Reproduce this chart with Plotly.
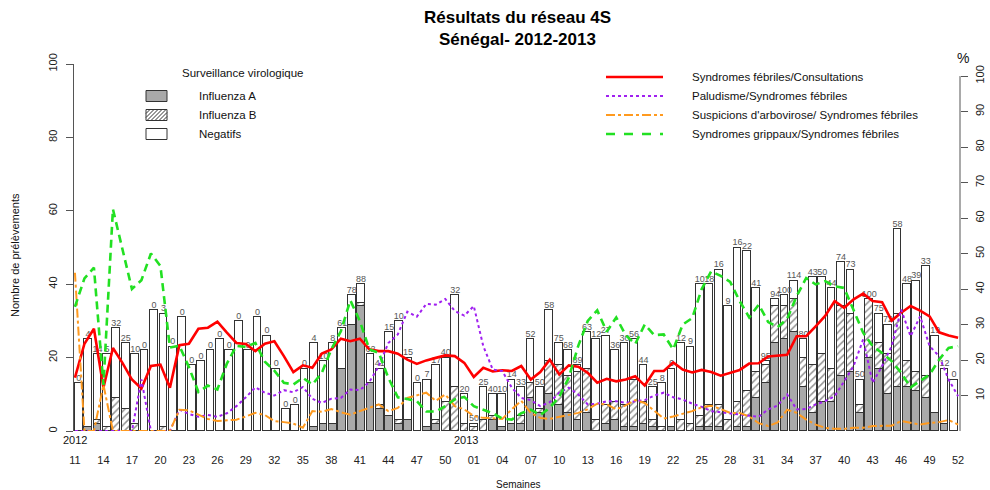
import plotly.graph_objects as go

# ---------------- data ----------------
weeks_2012 = list(range(11, 53))
weeks_2013 = list(range(1, 53))
week_labels = [f"{w:02d}" for w in weeks_2012 + weeks_2013]

influenza_a = [0, 1, 2, 0, 0, 0, 0, 0, 0, 0, 0, 0, 0, 0, 0, 0, 0, 0, 0, 0,
               0, 0, 0, 0, 0, 1, 2, 2, 17, 29, 34, 13, 6, 4, 2, 3, 0, 1, 2, 0,
               0, 0, 0, 0, 3, 1, 2, 2, 9, 5, 10, 7, 5, 3, 5, 0, 2, 3, 1, 1,
               2, 1, 0, 1, 0, 0, 1, 1, 1, 0, 1, 1, 9, 13, 24, 25, 27, 12, 5, 8,
               8, 15, 16, 5, 20, 17, 10, 12, 12, 11, 9, 5, 2, 0]
influenza_b = [0, 0, 1, 1, 9, 6, 2, 0, 0, 1, 0, 0, 0, 0, 0, 0, 0, 0, 0, 0,
               0, 0, 0, 0, 0, 0, 0, 0, 0, 0, 1, 0, 1, 0, 1, 0, 0, 0, 1, 8,
               12, 2, 1, 3, 1, 0, 0, 2, 4, 1, 9, 11, 10, 13, 12, 3, 5, 5, 6, 13,
               6, 2, 1, 0, 3, 2, 3, 6, 6, 3, 7, 10, 7, 5, 10, 9, 9, 8, 13, 13,
               9, 19, 16, 2, 16, 7, 11, 20, 7, 5, 6, 0, 0, 0]
negatifs = [13, 24, 18, 20, 19, 18, 19, 22, 33, 31, 23, 31, 18, 19, 22, 25, 22, 30, 22, 31,
            26, 17, 6, 7, 17, 23, 17, 22, 11, 8, 5, 8, 10, 23, 27, 17, 13, 13, 15, 12,
            25, 8, 1, 9, 6, 9, 12, 8, 12, 6, 14, 6, 7, 2, 10, 22, 19, 14, 17, 11,
            10, 9, 12, 16, 21, 21, 36, 33, 37, 31, 42, 38, 23, 1, 2, 3, 5, 5, 24, 21,
            22, 12, 12, 7, 0, 8, 8, 23, 21, 25, 30, 21, 15, 14]
pct_positifs = ["0", "4", "14", "5", "32", "25", "10", "0", "0", "3", "0", "0", "0", "0", "0", "0", "0", "0", "0", "0",
                "0", "0", "0", "0", "0", "4", "10", "8", "61", "78", "88", "62", "41", "15", "10", "15", "0", "7", "17", "40",
                "32", "20", "50", "25", "40", "10", "14", "33", "52", "50", "58", "75", "68", "89", "63", "12", "27", "36", "30", "56",
                "44", "25", "8", "6", "12", "9", "10", "18", "16", "9", "16", "22", "41", "95", "94", "100", "114", "80", "43", "50",
                "44", "74", "73", "50", "100", "75", "72", "58", "48", "39", "33", "19", "12", "0"]

fievre_consult = [15.0, 24.6, 28.8, 12.2, 23.4, 19.2, 14.5, 12.0, 18.3, 18.7, 12.2, 24.2, 24.6, 28.8, 29.1, 30.8, 27.7, 24.8, 24.5, 22.5,
                  24.6, 25.3, 21.1, 16.6, 18.5, 17.8, 21.8, 23.0, 26.0, 25.3, 26.0, 23.0, 22.5, 22.5, 21.8, 20.1, 18.9, 19.9, 20.6, 21.3,
                  21.1, 19.2, 15.2, 17.8, 16.8, 17.1, 16.9, 18.3, 14.5, 16.6, 20.1, 15.9, 18.5, 18.1, 16.4, 13.6, 14.7, 14.0, 14.5, 15.4,
                  12.8, 16.9, 16.9, 19.3, 17.3, 16.5, 17.2, 16.6, 15.6, 16.4, 17.2, 19.0, 19.1, 21.0, 21.2, 21.5, 26.7, 26.7, 29.5, 32.4,
                  36.6, 34.7, 37.1, 38.7, 36.6, 36.3, 31.1, 33.3, 35.2, 33.9, 32.3, 27.8, 26.9, 26.3]
paludisme = [0, 0, 0, 0, 0, 0, 0, 14.5, 0, 0, 0, 6.0, 4.8, 4.0, 4.5, 4.0, 5.0, 7.0, 9.5, 12.3,
             10.8, 10.0, 11.5, 10.9, 12.4, 9.1, 7.9, 9.1, 9.3, 11.7, 11.5, 13.8, 18.3, 24.8, 27.2, 33.6, 32.2, 35.8, 35.6, 37.2,
             33.8, 32.5, 35.2, 23.9, 17.3, 16.9, 12.2, 9.3, 8.7, 7.0, 8.1, 10.8, 12.2, 10.3, 7.5, 7.7, 8.4, 8.4, 7.9, 8.4,
             8.7, 10.0, 10.8, 9.5, 8.9, 7.7, 6.8, 5.6, 5.3, 5.1, 4.6, 4.4, 4.0, 6.1, 7.2, 10.3, 6.1, 6.2, 7.5, 8.4,
             9.8, 14.0, 18.3, 25.8, 13.6, 18.3, 23.9, 34.2, 26.7, 32.3, 23.9, 21.1, 14.5, 9.8]
arbovirose = [44.6, 0, 0, 13.0, 0, 0, 0, 0, 0, 0, 0, 6.0, 5.8, 4.6, 3.4, 2.8, 3.0, 3.2, 4.1, 5.1,
              4.5, 2.8, 2.5, 2.1, 0.9, 5.6, 5.4, 6.2, 5.3, 4.6, 5.6, 6.5, 7.5, 5.6, 6.5, 9.3, 10.0, 10.8, 8.5, 10.3,
              7.0, 6.1, 4.2, 3.7, 3.6, 3.4, 6.1, 8.5, 5.1, 3.7, 3.4, 4.0, 4.6, 5.1, 6.1, 7.7, 7.5, 6.1, 7.2, 8.7,
              7.9, 5.6, 3.5, 4.1, 4.8, 5.6, 6.7, 7.1, 6.2, 5.1, 5.1, 4.1, 2.2, 1.4, 2.4, 6.0, 5.1, 3.2, 1.8, 0.9,
              0.6, 0.6, 0.9, 0.9, 1.4, 1.5, 1.5, 2.8, 2.3, 1.8, 2.3, 2.5, 3.1, 1.8]
grippaux = [35.0, 43.0, 46.0, 13.0, 62.5, 51.0, 40.0, 42.5, 50.0, 46.5, 23.5, 24.0, 18.0, 11.0, 12.8, 11.7, 19.0, 24.0, 23.7, 24.8,
            19.5, 17.0, 13.6, 13.1, 15.0, 13.1, 16.4, 23.0, 28.1, 36.8, 31.0, 23.0, 22.0, 15.0, 9.5, 9.0, 8.4, 5.5, 5.5, 7.0,
            8.9, 9.6, 7.0, 6.0, 5.0, 3.5, 3.2, 5.0, 6.0, 4.5, 6.5, 9.6, 15.0, 24.0, 31.0, 34.0, 28.0, 32.0, 27.0, 24.5,
            30.0, 27.0, 27.2, 23.0, 30.0, 31.8, 40.0, 45.0, 43.7, 42.0, 36.6, 32.0, 35.6, 30.7, 29.3, 31.6, 38.0, 43.1, 41.3, 42.2,
            40.8, 40.3, 34.2, 27.7, 23.9, 22.0, 19.7, 16.4, 12.3, 14.0, 15.9, 20.1, 23.4, 23.9]

idx = list(range(len(week_labels)))
totals = [a + b + n for a, b, n in zip(influenza_a, influenza_b, negatifs)]

# ---------------- geometry (pixels) ----------------
FW, FH = 990, 490
L, R, T, B = 74, 960, 64, 431
W, H = R - L, B - T
FONT = "Liberation Sans, Arial, Helvetica, sans-serif"


def fx(px):
    return (px - L) / W


def fy(py):
    return (B - py) / H


OUT = "#333333"
fig = go.Figure()

fig.add_trace(go.Bar(x=idx, y=influenza_a, width=0.82, name="Influenza A",
                     marker=dict(color="#A9A9A9", line=dict(color=OUT, width=1))))
fig.add_trace(go.Bar(x=idx, y=influenza_b, width=0.82, name="Influenza B",
                     marker=dict(color="white", line=dict(color=OUT, width=1),
                                 pattern=dict(shape="/", fgcolor="#222222", bgcolor="white",
                                              size=5, solidity=0.3))))
fig.add_trace(go.Bar(x=idx, y=negatifs, width=0.82, name="Negatifs",
                     marker=dict(color="white", line=dict(color=OUT, width=1))))
fig.add_trace(go.Scatter(x=idx, y=totals, mode="text", text=pct_positifs,
                         textposition="top center", cliponaxis=False,
                         textfont=dict(family=FONT, size=9, color="#555555"), hoverinfo="skip"))

line_specs = [
    (fievre_consult, "#FF0000", "solid", 2.6),
    (paludisme, "#A020F0", "dot", 2),
    (arbovirose, "#FF9A1F", "dashdot", 2),
    (grippaux, "#22E022", "8px,5px", 2.6),
]
for vals, col, dash, wd in line_specs:
    fig.add_trace(go.Scatter(x=idx, y=vals, mode="lines", xaxis="x2", yaxis="y2",
                             line=dict(color=col, dash=dash, width=wd), hoverinfo="skip"))

shapes = []
annotations = []

# right axis line (0..100)
shapes.append(dict(type="line", xref="paper", yref="y2", x0=1, x1=1, y0=0, y1=100,
                   line=dict(color="#555555", width=1)))

# ---- left legend (virology) ----
annotations.append(dict(x=fx(180), y=fy(73), xref="paper", yref="paper", text="Surveillance virologique",
                        showarrow=False, xanchor="left", yanchor="middle",
                        font=dict(family=FONT, size=11.5, color="#111")))
box_x0, box_x1 = 146, 167
rows = [(96, "Influenza A", "#A9A9A9"), (115, "Influenza B", "white"), (134, "Negatifs", "white")]
for yc, lab, col in rows:
    y0, y1 = yc - 5.5, yc + 5.5
    shapes.append(dict(type="rect", xref="paper", yref="paper", x0=fx(box_x0), x1=fx(box_x1),
                       y0=fy(y1), y1=fy(y0), fillcolor=col, line=dict(color=OUT, width=1)))
    annotations.append(dict(x=fx(197), y=fy(yc), xref="paper", yref="paper", text=lab,
                            showarrow=False, xanchor="left", yanchor="middle",
                            font=dict(family=FONT, size=11.5, color="#111")))
    if lab == "Influenza B":
        h = y1 - y0
        c = box_x0 - h
        while c < box_x1:
            xs, ys = c, y1
            xe, ye = c + h, y0
            if xs < box_x0:
                ys = y1 - (box_x0 - c)
                xs = box_x0
            if xe > box_x1:
                ye = y1 - (box_x1 - c)
                xe = box_x1
            shapes.append(dict(type="line", xref="paper", yref="paper", x0=fx(xs), y0=fy(ys),
                               x1=fx(xe), y1=fy(ye), line=dict(color="#333", width=1)))
            c += 4

# ---- right legend (lines) ----
leg_lines = [
    (77, "Syndromes fébriles/Consultations", "#FF0000", "solid", 2.6),
    (96, "Paludisme/Syndromes fébriles", "#A020F0", "dot", 2),
    (115, "Suspicions d'arbovirose/ Syndromes fébriles", "#FF9A1F", "dashdot", 2),
    (134, "Syndromes grippaux/Syndromes fébriles", "#22E022", "dash", 2.6),
]
for yc, lab, col, dash, wd in leg_lines:
    shapes.append(dict(type="line", xref="paper", yref="paper", x0=fx(606), x1=fx(663),
                       y0=fy(yc), y1=fy(yc), line=dict(color=col, dash=dash, width=wd)))
    annotations.append(dict(x=fx(690), y=fy(yc), xref="paper", yref="paper", text=lab,
                            showarrow=False, xanchor="left", yanchor="middle",
                            font=dict(family=FONT, size=11.5, color="#111")))

# ---- titles and texts ----
annotations += [
    dict(x=fx(517), y=fy(18), xref="paper", yref="paper", text="<b>Résultats du réseau 4S</b>",
         showarrow=False, xanchor="center", yanchor="middle", font=dict(family=FONT, size=17, color="black")),
    dict(x=fx(517), y=fy(39), xref="paper", yref="paper", text="<b>Sénégal- 2012-2013</b>",
         showarrow=False, xanchor="center", yanchor="middle", font=dict(family=FONT, size=17, color="black")),
    dict(x=fx(15), y=fy(255), xref="paper", yref="paper", text="Nombre de prélèvements", textangle=-90,
         showarrow=False, xanchor="center", yanchor="middle", font=dict(family=FONT, size=11, color="#111")),
    dict(x=fx(963), y=fy(58), xref="paper", yref="paper", text="%",
         showarrow=False, xanchor="center", yanchor="middle", font=dict(family=FONT, size=14, color="#111")),
    dict(x=fx(518), y=fy(484), xref="paper", yref="paper", text="Semaines",
         showarrow=False, xanchor="center", yanchor="middle", font=dict(family=FONT, size=10, color="#111")),
    dict(x=0, y=fy(440), xref="x2", yref="paper", text="2012",
         showarrow=False, xanchor="center", yanchor="middle", font=dict(family=FONT, size=11, color="#111")),
    dict(x=len(weeks_2012) - 0.8, y=fy(440), xref="x2", yref="paper", text="2013",
         showarrow=False, xanchor="center", yanchor="middle", font=dict(family=FONT, size=11, color="#111")),
]

fig.update_layout(
    width=FW, height=FH,
    margin=dict(l=L, r=FW - R, t=T, b=FH - B, pad=0, autoexpand=False),
    paper_bgcolor="white", plot_bgcolor="white",
    barmode="stack", bargap=0, showlegend=False,
    font=dict(family=FONT, size=11, color="#222"),
    xaxis=dict(range=[-0.5, 93.64], visible=False, fixedrange=True, automargin=False),
    xaxis2=dict(overlaying="x", anchor="y", range=[-0.1, 93.2], side="bottom",
                tickmode="array", tickvals=idx[::3], ticktext=week_labels[::3],
                ticks="outside", ticklen=19, tickcolor="rgba(0,0,0,0)",
                showline=False, showgrid=False, zeroline=False, automargin=False,
                tickfont=dict(family=FONT, size=11, color="#222")),
    yaxis=dict(range=[0, 100], tickmode="array", tickvals=[0, 20, 40, 60, 80, 100],
               ticks="outside", ticklen=7, tickcolor="#555", showline=True, linecolor="#555",
               linewidth=1, tickangle=-90, showgrid=False, zeroline=False, automargin=False,
               ticklabelstandoff=5, tickfont=dict(family=FONT, size=11, color="#222")),
    yaxis2=dict(overlaying="y", side="right", anchor="x", range=[0, 103.4], tickmode="array",
                tickvals=[10, 20, 30, 40, 50, 60, 70, 80, 90, 100], ticks="outside", ticklen=7,
                tickcolor="#555", showline=False, tickangle=-90, showgrid=False, zeroline=False,
                automargin=False, ticklabelstandoff=3,
                tickfont=dict(family=FONT, size=11, color="#222")),
    shapes=shapes, annotations=annotations,
)

fig.write_html("out.html", config={"displayModeBar": False},
               post_script="document.body.style.margin='0';document.body.style.overflow='hidden';")
